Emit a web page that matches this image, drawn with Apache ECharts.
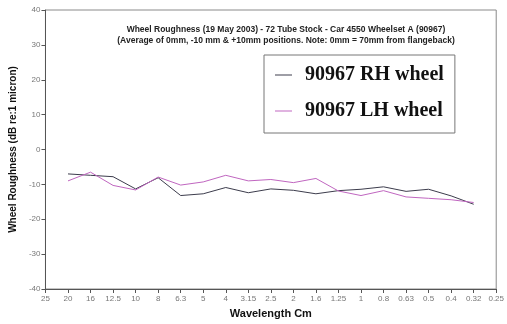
<!DOCTYPE html>
<html>
<head>
<meta charset="utf-8">
<script src="https://cdn.jsdelivr.net/npm/echarts@6/dist/echarts.min.js"></script>
<style>html,body{margin:0;padding:0;background:#fff}#c{width:507px;height:324px}</style>
</head>
<body>
<div id="c"></div>
<script>
const categories = ['25','20','16','12.5','10','8','6.3','5','4','3.15','2.5','2','1.6','1.25','1','0.8','0.63','0.5','0.4','0.32','0.25'];
const rhValues = [null,-7.0,-7.4,-7.8,-11.3,-8.1,-13.2,-12.7,-10.9,-12.4,-11.3,-11.7,-12.7,-11.8,-11.4,-10.7,-12.0,-11.4,-13.3,-15.7,null];
const lhValues = [null,-9.0,-6.5,-10.3,-11.6,-7.9,-10.2,-9.3,-7.4,-9.0,-8.6,-9.5,-8.3,-11.9,-13.2,-11.8,-13.6,-14.0,-14.4,-15.2,null];
const yTicks = {min:-40, max:40, interval:10};
const seriesNames = ['90967 RH wheel','90967 LH wheel'];
const titleLines = ['Wheel Roughness (19 May 2003) - 72 Tube Stock - Car 4550 Wheelset A (90967)','(Average of 0mm, -10 mm & +10mm positions. Note: 0mm = 70mm from flangeback)'];

const chart = echarts.init(document.getElementById('c'), null, {renderer:'canvas'});
chart.setOption({
  animation:false,
  backgroundColor:'#fff',
  title:{
    text: titleLines.join('\n'),
    left: 281, top: 19, textAlign:'center',
    textStyle:{fontFamily:'Liberation Sans, Arial', fontWeight:'bold', fontSize:8.5, color:'#222', lineHeight:11}
  },
  legend:{
    orient:'vertical', left:264, top:55,
    borderColor:'#777', borderWidth:1,
    padding:[9,11,11,11],
    itemGap:14,
    itemWidth:17, itemHeight:1,
    icon:'rect',
    data: seriesNames,
    textStyle:{fontFamily:'Liberation Serif, Times New Roman', fontWeight:'bold', fontSize:20, color:'#111', padding:[0,0,0,8], lineHeight:22}
  },
  grid:{left:44, right:9, top:10, bottom:28, show:true, borderColor:'#8a8a8a', borderWidth:1},
  xAxis:{
    type:'category', data:categories, boundaryGap:false,
    name:'Wavelength Cm', nameLocation:'middle', nameGap:19,
    nameTextStyle:{fontFamily:'Liberation Sans, Arial', fontWeight:'bold', fontSize:11, color:'#111'},
    axisLine:{onZero:false, lineStyle:{color:'#555', width:1}},
    axisTick:{show:true, interval:0, length:4, lineStyle:{color:'#555'}},
    axisLabel:{interval:0, fontSize:8, color:'#777', margin:6, fontFamily:'Liberation Sans, Arial'},
    splitLine:{show:false}
  },
  yAxis:{
    type:'value', min:yTicks.min, max:yTicks.max, interval:yTicks.interval,
    name:'Wheel Roughness (dB re:1 micron)', nameLocation:'middle', nameGap:24,
    nameTextStyle:{fontFamily:'Liberation Sans, Arial', fontWeight:'bold', fontSize:10, color:'#111'},
    axisLine:{show:true, lineStyle:{color:'#555', width:1}},
    axisTick:{show:true, length:4, lineStyle:{color:'#555'}},
    axisLabel:{fontSize:8, color:'#777', margin:5, fontFamily:'Liberation Sans, Arial'},
    splitLine:{show:false}
  },
  series:[
    {name:seriesNames[0], type:'line', data:rhValues, symbol:'none', connectNulls:false,
     lineStyle:{color:'#3c3c4c', width:1}, itemStyle:{color:'#3c3c4c'}},
    {name:seriesNames[1], type:'line', data:lhValues, symbol:'none', connectNulls:false,
     lineStyle:{color:'#c066c0', width:1}, itemStyle:{color:'#c066c0'}}
  ]
});
</script>
</body>
</html>
